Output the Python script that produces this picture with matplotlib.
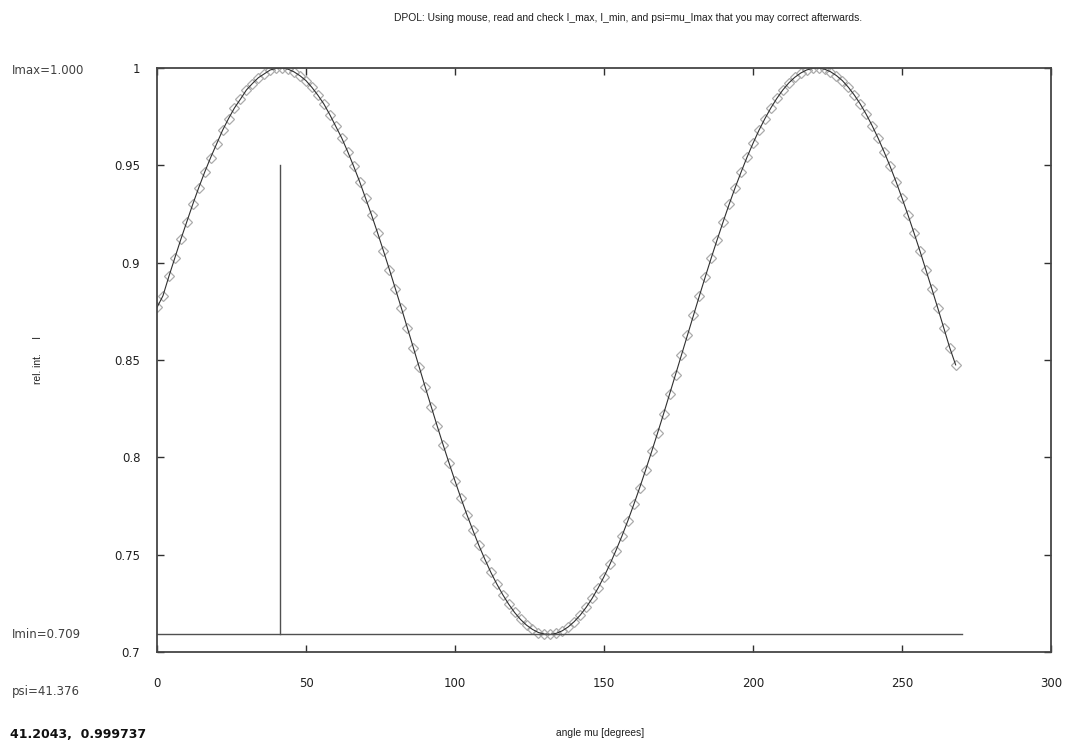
import matplotlib
matplotlib.use("Agg")
import matplotlib.pyplot as plt
import numpy as np

plt.rcParams['font.family'] = ['DejaVu Sans']

# angle mu [degrees], measured every 2 degrees
mu = np.arange(0, 270, 2)

# relative intensity
rise_1 = [0.877, 0.883, 0.893, 0.9025, 0.912, 0.921, 0.930, 0.9385, 0.9465, 0.954,
          0.961, 0.968, 0.974, 0.9795, 0.984, 0.9887, 0.992, 0.995, 0.997, 0.999,
          0.9998, 1.000, 0.9994, 0.998, 0.996, 0.9935, 0.990, 0.986, 0.9815, 0.976,
          0.970, 0.964, 0.957, 0.9495, 0.9416, 0.933, 0.9245, 0.9154, 0.906, 0.8964,
          0.8866, 0.8767, 0.8666, 0.8564, 0.8463]
fall_1 = [0.8361, 0.8261, 0.8162, 0.8065, 0.7971, 0.7879, 0.779, 0.7705, 0.7625, 0.7548,
          0.7477, 0.741, 0.735, 0.7295, 0.7246, 0.7203, 0.7167, 0.7138, 0.7116, 0.710,
          0.7092, 0.709, 0.7096, 0.7109, 0.7129, 0.7156, 0.7189, 0.7229, 0.7275, 0.7328,
          0.7387, 0.7451, 0.7521, 0.7595, 0.7674, 0.7758, 0.7845, 0.7936, 0.803, 0.8126,
          0.8224, 0.8324, 0.8425, 0.8526, 0.8628]
rise_2 = [0.8729, 0.8829, 0.8928, 0.9025, 0.9119, 0.9211, 0.930, 0.9385, 0.9465, 0.9542,
          0.9613, 0.968, 0.974, 0.9795, 0.9844, 0.9887, 0.9923, 0.9952, 0.9974, 0.999,
          0.9998, 1.000, 0.9994, 0.9981, 0.9961, 0.9935, 0.9901, 0.9861, 0.9815, 0.9762,
          0.9703, 0.9639, 0.9569, 0.9495, 0.9416, 0.9332, 0.9245, 0.9154, 0.9061, 0.8964,
          0.8866, 0.8767, 0.8666, 0.8564, 0.8475]
rel_int = np.array(rise_1 + fall_1 + rise_2)

i_max = 1.000
i_min = 0.709
psi = 41.376
cursor = "41.2043,  0.999737"

fig = plt.figure(figsize=(10.68, 7.47), dpi=100)
ax = fig.add_axes([157/1068, 1-652/747, (1051-157)/1068, (652-68)/747])

# markers then the curve on top
ax.plot(mu, rel_int, ls='none', marker='D', ms=5, mfc='none', mec='#acacac', mew=0.9)
ax.plot(mu, rel_int, color='#303030', lw=0.8)

# Imin line and psi marker
ax.plot([0, 270], [i_min, i_min], color='#505050', lw=1)
ax.plot([psi, psi], [i_min, 0.95], color='#505050', lw=1)

ax.set_xlim(0, 300)
ax.set_ylim(0.7, 1.0)
ax.set_xticks([0, 50, 100, 150, 200, 250, 300])
ax.set_yticks([0.7, 0.75, 0.8, 0.85, 0.9, 0.95, 1.0])
ax.set_yticklabels(['0.7', '0.75', '0.8', '0.85', '0.9', '0.95', '1'])
ax.tick_params(direction='in', length=5, width=1, color='#303030',
               top=True, right=True, labelsize=8.5, labelcolor='#202020')
ax.tick_params(axis='x', pad=18)
ax.tick_params(axis='y', pad=12)
for s in ax.spines.values():
    s.set_color('#454545')
    s.set_linewidth(1.3)

fs = 8.5
sans = ['Liberation Sans', 'DejaVu Sans']
fig.text(628/1068, 1-18/747, "DPOL: Using mouse, read and check I_max, I_min, and psi=mu_Imax that you may correct afterwards.",
         ha='center', va='center', fontsize=7.4, family=sans, color='#202020')
fig.text(600/1068, 1-733/747, "angle mu [degrees]", ha='center', va='center', fontsize=7.4,
         family=sans, color='#202020')
fig.text(38/1068, 1-360/747, "rel. int.     I", ha='center', va='center', rotation=90,
         fontsize=7.4, family=sans, color='#202020')
fig.text(12/1068, 1-70/747, "Imax=%.3f" % i_max, ha='left', va='center', fontsize=fs, color='#404040')
fig.text(12/1068, 1-634/747, "Imin=%.3f" % i_min, ha='left', va='center', fontsize=fs, color='#404040')
fig.text(12/1068, 1-692/747, "psi=%.3f" % psi, ha='left', va='center', fontsize=fs, color='#404040')
fig.text(10/1068, 1-735/747, cursor, ha='left', va='center', fontsize=9, fontweight='bold', color='#101010')

fig.savefig("out.png", dpi=100)
